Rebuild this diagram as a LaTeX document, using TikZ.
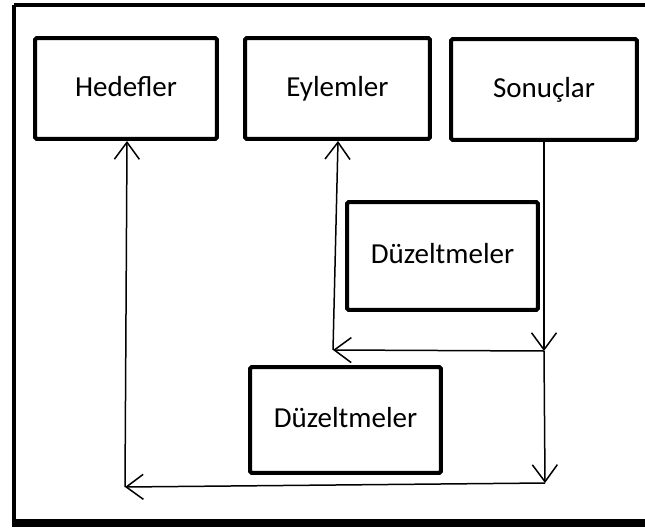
\documentclass[tikz,border=0pt]{standalone}
\usepackage{fontspec}
\setmainfont{Carlito}
\usetikzlibrary{arrows.meta,calc}
\tikzset{
  box/.style={draw, line width=0.08cm, rounded corners=1pt, fill=white,
    inner sep=0pt, text height=1.0em, text depth=0.1em,
    font=\fontsize{16.5}{20}\selectfont},
  flow/.style={line width=0.03cm, -{Straight Barb[length=0.34cm,width=0.5cm,line width=0.03cm]}}
}

\begin{document}
\begin{tikzpicture}[x=0.02cm,y=-0.02cm]
			%%%%% FRAME %%%%%
			\useasboundingbox (0,0) rectangle (645,527);
			\draw[line width=0.08cm] (14,5.3) -- (645,5.3);
			\draw[line width=0.07cm] (14,5.3) -- (14,521);
			\fill[black] (12,519) rectangle (645,527);
			
			%%%%% BOXES %%%%%
			\node[box, minimum width=3.64cm, minimum height=2.02cm] (hed) at (126,88.5) {Hedefler};
			\node[box, minimum width=3.7cm, minimum height=2.02cm] (eyl) at (337.5,88.5) {Eylemler};
			\node[box, minimum width=3.72cm, minimum height=2.02cm] (son) at (544,89.5) {Sonuçlar};
			\node[box, minimum width=3.82cm, minimum height=2.16cm] (duz1) at (442.5,256) {Düzeltmeler};
			\node[box, minimum width=3.82cm, minimum height=2.12cm] (duz2) at (345.5,420) {Düzeltmeler};
			
			%%%%% CORNERS %%%%%
			\coordinate (c1) at (544,351);
			\coordinate (c2) at (545,483);
			\coordinate (c3) at (333,350);
			\coordinate (c4) at (125,487);
			
			%%%%% ARROWS %%%%%
			\draw[flow] (son.south) -- (c1);
			\draw[flow] (c1) -- (c2);
			\draw[flow] (c1) -- (c3);
			\draw[flow] (c3) -- ([xshift=0.1cm]c3 |- eyl.south);
			\draw[flow] (c2) -- (c4);
			\draw[flow] (c4) -- ([xshift=0.04cm]c4 |- hed.south);
		\end{tikzpicture}
\end{document}
